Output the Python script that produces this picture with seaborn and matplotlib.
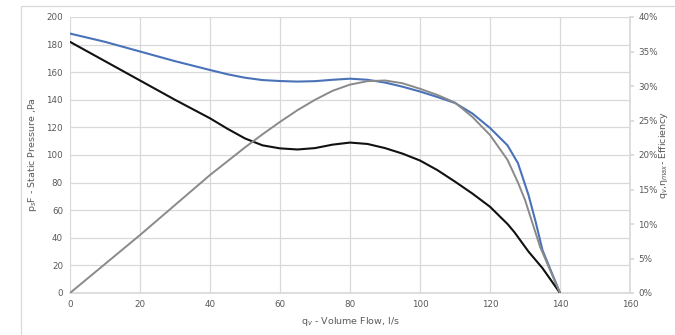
import matplotlib
matplotlib.use("Agg")
import matplotlib.pyplot as plt
import matplotlib.patches as mpatches
import seaborn as sns
import pandas as pd

sns.set_theme(style="white")
plt.rcParams['font.family'] = ['DejaVu Sans']

# Data
flow_blue = [0, 10, 20, 30, 40, 45, 50, 55, 60, 65, 70, 75, 80, 85, 90, 95, 100, 105, 110,
             115, 120, 125, 128, 131, 133, 135, 140]
pressure_blue = [188, 182, 175, 168, 161.6, 158.5, 156, 154.3, 153.6, 153.2, 153.5, 154.5,
                 155.3, 154.5, 152.5, 149.5, 146, 142, 137.7, 130, 119.6, 107, 94, 71, 52, 31, 0]

flow_black = [0, 10, 20, 30, 40, 45, 50, 55, 60, 65, 70, 75, 80, 85, 90, 95, 100, 105, 110,
              115, 120, 125, 127, 131, 135, 140]
pressure_black = [182, 168, 154, 140, 126.6, 119, 112, 107, 104.8, 104, 105, 107.5, 109, 108,
                  105, 101, 96, 89, 80.7, 72, 62.5, 50, 44, 30, 18, 0]

flow_eff = [0, 20, 40, 50, 55, 60, 65, 70, 75, 80, 85, 90, 95, 100, 105, 110, 115, 120,
            125, 128, 130, 134.3, 140]
efficiency = [0, 8.4, 17.1, 21.1, 23, 24.8, 26.5, 28, 29.3, 30.2, 30.7, 30.8, 30.4, 29.6,
              28.7, 27.6, 25.5, 22.9, 19.3, 16, 13.5, 6.7, 0]

x_ticks = [0, 20, 40, 60, 80, 100, 120, 140, 160]
y_ticks = [0, 20, 40, 60, 80, 100, 120, 140, 160, 180, 200]
y2_ticks = [0, 5, 10, 15, 20, 25, 30, 35, 40]

df_blue = pd.DataFrame({"flow": flow_blue, "p": pressure_blue})
df_black = pd.DataFrame({"flow": flow_black, "p": pressure_black})
df_eff = pd.DataFrame({"flow": flow_eff, "eff": efficiency})

fig = plt.figure(figsize=(6.75, 3.35), dpi=100)
ax = fig.add_axes([70/675, 1-293/335, 560/675, 276/335])
ax2 = ax.twinx()

text_col = "#595959"
grid_col = "#d9d9d9"

sns.lineplot(data=df_blue, x="flow", y="p", ax=ax, color="#4a72b8", lw=1.5, zorder=3)
sns.lineplot(data=df_black, x="flow", y="p", ax=ax, color="#111111", lw=1.5, zorder=3)
sns.lineplot(data=df_eff, x="flow", y="eff", ax=ax2, color="#8a8a8a", lw=1.4, zorder=3)

ax.set_xlim(0, 160)
ax.set_ylim(0, 200)
ax2.set_ylim(0, 40)
ax.set_xticks(x_ticks)
ax.set_yticks(y_ticks)
ax2.set_yticks(y2_ticks)
ax2.set_yticklabels([f"{v}%" for v in y2_ticks])

ax.grid(True, color=grid_col, lw=0.9)
ax.set_axisbelow(True)
for a in (ax, ax2):
    for s in a.spines.values():
        s.set_visible(False)
ax.spines['bottom'].set_visible(True)
ax.spines['bottom'].set_color(grid_col)
ax2.spines['right'].set_visible(True)
ax2.spines['right'].set_color(grid_col)

ax.tick_params(axis='both', labelsize=6.3, colors=text_col, length=0, pad=5)
ax2.tick_params(axis='y', labelsize=6.3, colors=text_col, length=3, color=grid_col, pad=3)

ax.set_xlabel("q$_v$ - Volume Flow, l/s", fontsize=6.8, color=text_col, labelpad=4)
ax.set_ylabel("p$_s$F - Static Pressure ,Pa", fontsize=6.8, color=text_col, labelpad=5)
ax2.set_ylabel("")
ax2.set_xlabel("")
fig.text(664/675, 1-155/335, "q$_v$,η$_{max}$- Efficiency", rotation=90, fontsize=6.8,
         color=text_col, ha="center", va="center")

# outer chart border
fig.patches.append(mpatches.Rectangle((21/675, -0.05), 1.0, 1-6/335 + 0.05,
                                      transform=fig.transFigure, fill=False,
                                      edgecolor="#d9d9d9", lw=0.9, zorder=0))

fig.savefig("out.png", dpi=100)
